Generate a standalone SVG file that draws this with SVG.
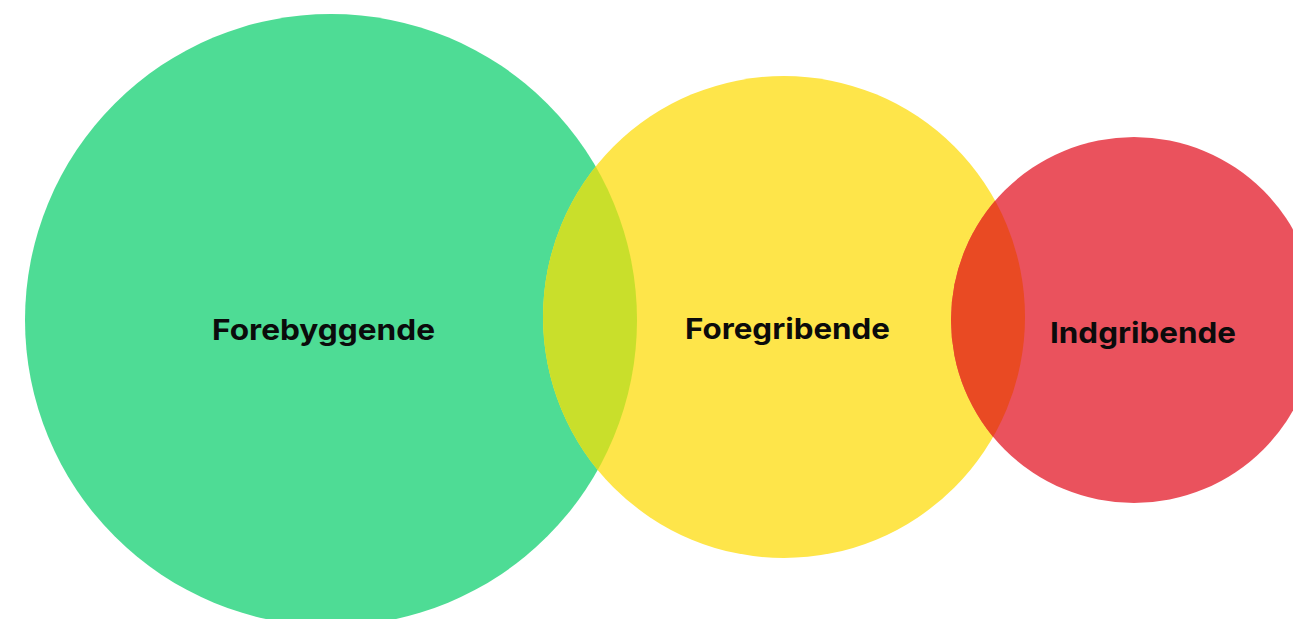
<svg xmlns="http://www.w3.org/2000/svg" width="1293" height="619" viewBox="0 0 1293 619">
<style>
.lbl{font-family:Inter,"Liberation Sans",sans-serif;font-weight:700;font-size:29px;fill:#0b0b0b;text-anchor:middle}
</style>
<defs>
<clipPath id="cg"><circle cx="331" cy="320" r="306"/></clipPath>
<clipPath id="cr"><circle cx="1134" cy="320" r="183"/></clipPath>
</defs>
<rect width="1293" height="619" fill="#ffffff"/>
<g id="node-forebyggende">
<circle cx="331" cy="320" r="306" fill="#4edc95"/>
</g>
<g id="node-foregribende">
<circle cx="784" cy="317" r="241" fill="#fee54a"/>
<circle cx="784" cy="317" r="241" fill="#c9df2b" clip-path="url(#cg)"/>
</g>
<g id="node-indgribende">
<circle cx="1134" cy="320" r="183" fill="#ea525d"/>
<circle cx="784" cy="317" r="241" fill="#e94a23" clip-path="url(#cr)"/>
</g>
<g id="connectors"></g>
<g id="labels">
<text class="lbl" x="323.5" y="340" textLength="223" lengthAdjust="spacingAndGlyphs">Forebyggende</text>
<text class="lbl" x="787.5" y="339" textLength="205" lengthAdjust="spacingAndGlyphs">Foregribende</text>
<text class="lbl" x="1143" y="343" textLength="186" lengthAdjust="spacingAndGlyphs">Indgribende</text>
</g>
</svg>
